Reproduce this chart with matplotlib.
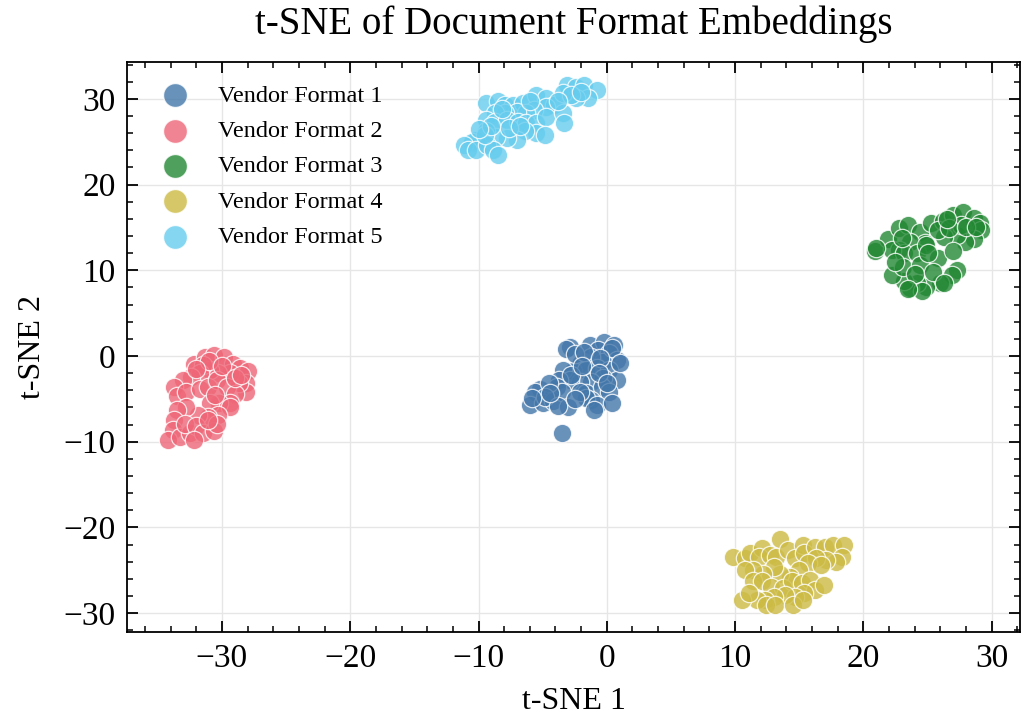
import numpy as np
import matplotlib
matplotlib.use("Agg")
import matplotlib.pyplot as plt
from matplotlib.ticker import AutoMinorLocator

plt.rcParams['font.family'] = ['Liberation Serif', 'DejaVu Serif']
plt.rcParams['mathtext.fontset'] = 'stix'
plt.rcParams['axes.unicode_minus'] = True

# estimated t-SNE coordinates
fmt1_x = [-2.9, -1.3, -0.2, 0.6, -0.7, 0.2, 0.8, -0.3, -1.2, -2.1, -2.6, -3.4, -1.6, -0.8, 0.2, 0.8, -0.3,
          -1.2, -2.1, -2.9, -3.7, -3.9, -5.2, -5.6, -6.0, -5.0, -4.2, -3.5, -3.0, -1.6, -0.4, 0.2, -1.2,
          -1.6, -0.8, -2.1, -3.5, -3.2, -2.5, -1.8, 0.4, -0.5, -4.5, -4.8, -3.8, -2.5, -1.0, 0.4, -0.6,
          -2.8, -4.4, -5.8, 0.0, -1.9, 1.0]
fmt1_y = [1.1, 1.3, 1.6, 1.3, 0.7, 0.3, -0.5, -0.7, -0.1, -0.9, -1.8, -1.6, -1.6, -1.4, -1.6, -2.8, -2.6,
          -3.0, -3.0, -2.8, -2.8, -3.6, -3.8, -4.2, -5.7, -5.5, -5.3, -4.2, -5.9, -4.3, -3.6, -4.2, -5.1,
          -4.9, -5.7, -4.2, -9.0, 0.8, 0.2, 0.5, 0.9, -0.2, -3.2, -4.8, -5.8, -5.0, -6.3, -5.5, -2.0,
          -2.2, -4.3, -4.9, -3.2, -1.2, -0.8]

fmt2_x = [-32.2, -31.3, -30.6, -29.8, -29.1, -28.6, -28.0, -28.1, -28.1, -28.7, -29.4, -30.3, -30.9,
          -31.5, -31.7, -32.4, -33.0, -33.7, -33.5, -32.8, -31.7, -31.1, -30.4, -29.6, -29.0, -29.4,
          -30.2, -30.9, -29.4, -30.3, -31.1, -31.9, -32.8, -33.5, -33.7, -33.8, -34.2, -33.3, -32.5,
          -32.9, -32.0, -31.5, -30.6, -30.4, -32.2, -31.1, -31.0, -30.0, -32.0, -30.5, -29.0, -28.5]
fmt2_y = [-0.9, -0.1, 0.1, -0.1, -0.9, -1.4, -1.8, -3.2, -4.2, -3.2, -2.0, -2.0, -1.6, -1.1, -2.0, -2.4,
          -2.8, -3.6, -4.7, -4.2, -3.8, -3.6, -2.8, -3.6, -4.4, -5.5, -5.5, -5.5, -5.9, -6.9, -7.1, -6.9,
          -5.9, -6.3, -7.5, -8.6, -9.8, -9.4, -9.0, -7.9, -8.2, -9.0, -8.8, -7.9, -9.8, -7.5, -0.6, -1.2,
          -1.5, -4.5, -2.6, -2.2]

fmt3_x = [20.9, 21.9, 22.8, 23.5, 24.4, 25.3, 26.2, 27.0, 27.8, 28.6, 29.1, 29.2, 28.6, 27.9, 27.3, 26.3,
          25.8, 24.8, 23.6, 22.8, 22.2, 23.2, 24.2, 24.9, 25.8, 27.0, 27.3, 26.9, 26.0, 24.9, 24.2, 23.6,
          23.2, 22.2, 23.1, 24.4, 24.0, 25.4, 26.3, 24.6, 23.5, 21.0, 27.6, 26.7, 28.0, 22.5, 23.0, 25.0,
          26.5, 28.8]
fmt3_y = [12.2, 13.7, 14.9, 15.3, 14.5, 15.5, 15.7, 16.5, 16.8, 16.1, 15.5, 14.7, 13.7, 13.3, 14.1, 13.9,
          14.7, 13.2, 13.3, 12.4, 12.4, 12.0, 12.0, 13.0, 11.4, 12.2, 10.0, 9.5, 8.5, 8.1, 8.5, 7.9, 8.7,
          9.5, 10.4, 10.6, 9.6, 9.8, 8.5, 7.6, 7.8, 12.6, 15.3, 14.9, 15.0, 11.0, 13.8, 12.0, 16.0, 15.0]

fmt4_x = [9.8, 10.8, 11.2, 12.1, 11.9, 12.7, 13.5, 13.2, 14.1, 14.7, 15.3, 15.4, 16.2, 17.0, 17.6, 18.5,
          18.3, 17.9, 17.1, 16.3, 15.7, 15.0, 14.3, 13.5, 13.0, 12.2, 11.4, 10.8, 11.4, 12.1, 12.8, 13.7,
          14.4, 15.2, 15.8, 16.2, 16.9, 15.4, 14.7, 13.9, 13.0, 12.3, 11.7, 10.5, 11.1, 12.4, 13.1, 14.5,
          15.3, 16.7]
fmt4_y = [-23.4, -23.6, -23.0, -22.4, -23.4, -23.2, -21.3, -23.4, -22.6, -23.6, -22.1, -23.0, -22.3,
          -22.3, -22.1, -22.1, -23.4, -24.0, -23.8, -23.6, -24.2, -25.0, -25.8, -25.4, -24.6, -25.4,
          -25.0, -25.0, -26.3, -26.3, -26.9, -27.1, -26.3, -26.5, -26.1, -27.3, -26.7, -27.7, -28.1,
          -27.9, -28.1, -28.5, -28.5, -28.5, -27.7, -29.1, -29.1, -29.1, -28.5, -24.4]

fmt5_x = [-9.4, -8.5, -7.9, -7.3, -6.5, -5.5, -4.7, -4.1, -3.1, -2.4, -1.8, -0.8, -1.5, -2.4, -3.4, -4.7,
          -5.7, -6.3, -7.0, -7.9, -8.7, -9.4, -8.7, -7.8, -6.9, -6.3, -5.5, -4.7, -3.4, -3.3, -5.5, -4.8,
          -6.4, -7.0, -7.8, -8.6, -9.4, -10.2, -10.5, -11.1, -10.8, -10.2, -9.3, -8.9, -8.5, -9.5, -7.6,
          -2.8, -2.0, -6.0, -8.2, -9.0, -10.0, -6.8, -3.8]
fmt5_y = [29.5, 29.7, 29.3, 29.3, 29.5, 30.5, 30.1, 29.3, 31.6, 31.4, 31.6, 31.0, 30.1, 30.1, 30.7, 29.1,
          28.7, 28.3, 28.5, 28.3, 28.3, 27.5, 27.3, 27.5, 27.3, 27.2, 27.2, 27.9, 28.3, 27.2, 26.0, 25.8,
          26.2, 25.2, 25.4, 25.6, 26.2, 25.2, 25.0, 24.6, 24.0, 24.0, 24.6, 24.0, 23.5, 25.8, 26.6, 30.5,
          30.8, 29.8, 28.8, 26.8, 26.5, 26.8, 29.8]

labels = ['Vendor Format 1', 'Vendor Format 2', 'Vendor Format 3', 'Vendor Format 4', 'Vendor Format 5']
colors = ['#4477AA', '#EE6677', '#228833', '#CCBB44', '#66CCEE']
xs = [fmt1_x, fmt2_x, fmt3_x, fmt4_x, fmt5_x]
ys = [fmt1_y, fmt2_y, fmt3_y, fmt4_y, fmt5_y]

fig = plt.figure(figsize=(10.24, 7.17), dpi=100)
ax = fig.add_axes([0.124, 0.1186, 0.872, 0.795])

for x, y, c, lab in zip(xs, ys, colors, labels):
    ax.scatter(x, y, s=175, c=c, alpha=0.8, edgecolors='white', linewidths=0.9, label=lab, zorder=3)

ax.set_xlim(-37.4, 32.2)
ax.set_ylim(-32.2, 34.3)
ax.set_xticks([-30, -20, -10, 0, 10, 20, 30])
ax.set_yticks([-30, -20, -10, 0, 10, 20, 30])
ax.xaxis.set_minor_locator(AutoMinorLocator(5))
ax.yaxis.set_minor_locator(AutoMinorLocator(5))
ax.tick_params(which='both', direction='in', top=True, right=True, labelsize=24, width=1.3)
ax.tick_params(which='major', length=8, pad=8)
ax.tick_params(which='minor', length=4.5, width=1.1)
for s in ax.spines.values():
    s.set_linewidth(1.3)
ax.grid(True, color='#e6e6e6', linewidth=1.0, zorder=0)
ax.set_axisbelow(True)

ax.set_xlabel('t-SNE 1', fontsize=23, labelpad=10)
ax.set_ylabel('t-SNE 2', fontsize=23, labelpad=12)
ax.set_title('t-SNE of Document Format Embeddings', fontsize=28, pad=20)

ax.legend(loc='upper left', frameon=False, fontsize=17.5, markerscale=1.3, handletextpad=0.8,
          labelspacing=0.55, borderaxespad=0.3, bbox_to_anchor=(0.007, 0.99))

fig.savefig('out.png', dpi=100)
